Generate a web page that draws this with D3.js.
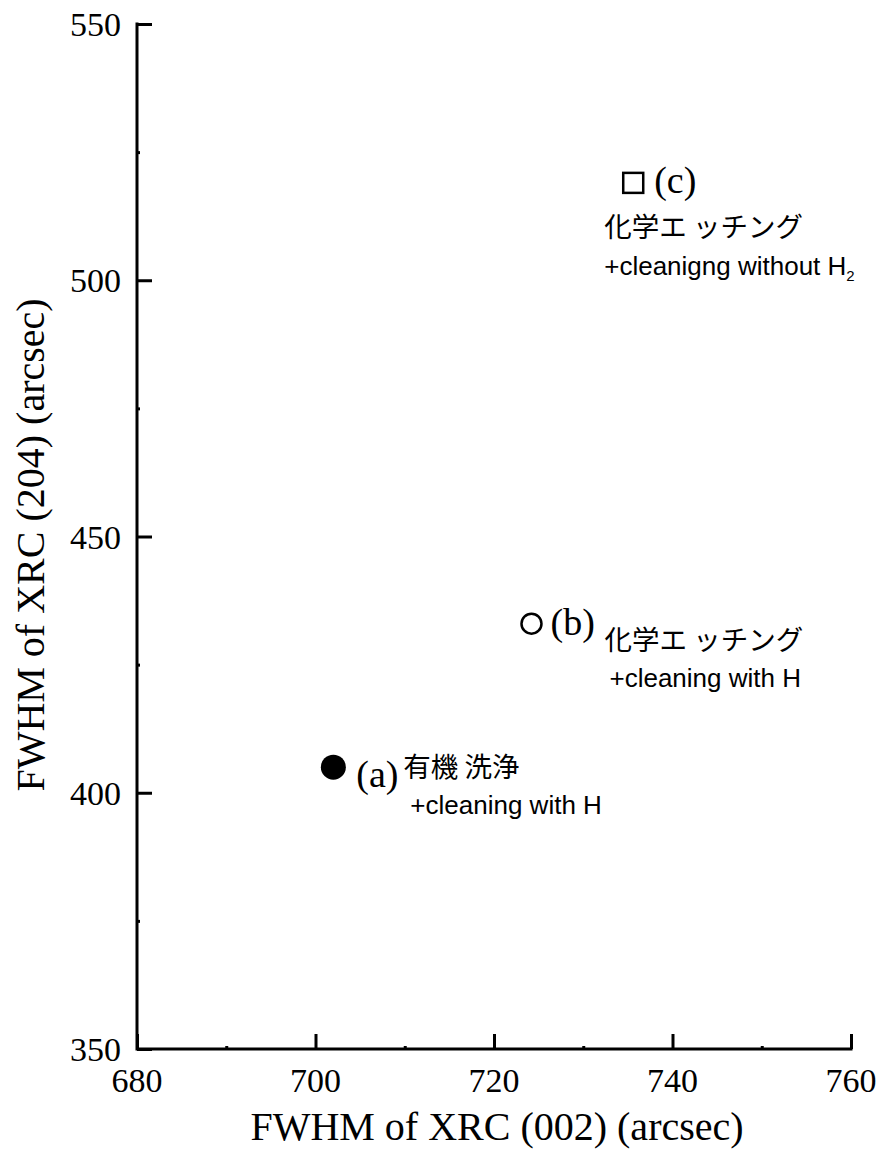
<!DOCTYPE html>
<html>
<head>
<meta charset="utf-8">
<script src="https://cdn.jsdelivr.net/npm/d3@7"></script>
<style>
  html, body { margin: 0; padding: 0; background: #fff; }
  svg { display: block; }
</style>
</head>
<body>
<script>
// Sample treatments and their XRC rocking-curve widths (arcsec)
const sampleIds = ["a", "b", "c"];
const fwhm002 = [702, 724.2, 735.6];
const fwhm204 = [405, 433, 519];
const markerShapes = ["filledCircle", "openCircle", "openSquare"];
const treatmentJa = ["有機 洗浄", "化学エ ッチング", "化学エ ッチング"];
const treatmentEn = ["+cleaning with H", "+cleaning with H", "+cleanigng without H"];

const xTicks = [680, 700, 720, 740, 760];
const yTicks = [350, 400, 450, 500, 550];
const xMinorTicks = [690, 710, 730, 750];
const yMinorTicks = [375, 425, 475, 525];

const SERIF = '"Liberation Serif", "Times New Roman", Times, serif';
const JA_FONT = '"Noto Sans CJK JP", "Noto Sans", sans-serif';
const LATIN_SANS = '"Liberation Sans", Arial, sans-serif';

const W = 883, H = 1167;
const plotLeft = 137, plotRight = 851, plotTop = 24, plotBottom = 1049;

const svg = d3.select("body").append("svg")
  .attr("width", W).attr("height", H)
  .style("font-family", SERIF);

const x = d3.scaleLinear().domain([680, 760]).range([plotLeft, plotRight]);
const y = d3.scaleLinear().domain([350, 550]).range([plotBottom, plotTop]);

// Axes: ticks point inward, labels drawn separately
const axisG = svg.append("g");
axisG.append("g")
  .attr("transform", `translate(0,${plotBottom})`)
  .call(d3.axisTop(x).tickValues(xTicks).tickSize(15).tickFormat(""))
  .call(g => g.select(".domain").remove());
axisG.append("g")
  .attr("transform", `translate(${plotLeft},0)`)
  .call(d3.axisRight(y).tickValues(yTicks).tickSize(15).tickFormat(""))
  .call(g => g.select(".domain").remove());
axisG.append("g")
  .attr("transform", `translate(0,${plotBottom})`)
  .call(d3.axisTop(x).tickValues(xMinorTicks).tickSize(3).tickFormat(""))
  .call(g => g.select(".domain").remove());
axisG.append("g")
  .attr("transform", `translate(${plotLeft},0)`)
  .call(d3.axisRight(y).tickValues(yMinorTicks).tickSize(3).tickFormat(""))
  .call(g => g.select(".domain").remove());
axisG.selectAll("line").attr("stroke", "#000").attr("stroke-width", 3);

// Axis lines (left and bottom only)
svg.append("path")
  .attr("d", `M${x(680)},${y(550)}V${y(350)}H${x(760)}`)
  .attr("fill", "none").attr("stroke", "#000").attr("stroke-width", 3)
  .attr("stroke-linecap", "square");

// Tick labels
svg.append("g").selectAll("text").data(xTicks).join("text")
  .style("font-family", SERIF).style("font-size", "34px")
  .attr("x", d => x(d)).attr("y", 1092)
  .attr("text-anchor", "middle")
  .text(d => String(d));
svg.append("g").selectAll("text").data(yTicks).join("text")
  .style("font-family", SERIF).style("font-size", "34px")
  .attr("x", 121).attr("y", d => y(d) + 12)
  .attr("text-anchor", "end")
  .text(d => String(d));

// Axis titles
svg.append("text")
  .style("font-family", SERIF).style("font-size", "40px")
  .attr("x", 497).attr("y", 1140).attr("text-anchor", "middle")
  .text("FWHM of XRC (002) (arcsec)");
svg.append("text")
  .style("font-family", SERIF).style("font-size", "40px")
  .attr("transform", `translate(44,545) rotate(-90)`)
  .attr("text-anchor", "middle")
  .text("FWHM of XRC (204) (arcsec)");

// Data markers
const pts = sampleIds.map((id, i) => ({
  id, xv: fwhm002[i], yv: fwhm204[i], shape: markerShapes[i],
  ja: treatmentJa[i], en: treatmentEn[i]
}));

const markG = svg.append("g");
pts.forEach(p => {
  const cx = x(p.xv), cy = y(p.yv);
  if (p.shape === "filledCircle") {
    markG.append("circle").attr("cx", cx).attr("cy", cy).attr("r", 12.5).attr("fill", "#000");
  } else if (p.shape === "openCircle") {
    markG.append("circle").attr("cx", cx).attr("cy", cy).attr("r", 10)
      .attr("fill", "none").attr("stroke", "#000").attr("stroke-width", 2.5);
  } else {
    markG.append("rect").attr("x", cx - 10).attr("y", cy - 10)
      .attr("width", 20).attr("height", 20)
      .attr("fill", "none").attr("stroke", "#000").attr("stroke-width", 2.5);
  }
});

// Annotation offsets (pixels from each marker centre)
const labelOffsets = [
  { id: [23, 20], ja: [70, 10], en: [77, 47] },
  { id: [19, 11], ja: [73, 26], en: [78, 63] },
  { id: [21, 10], ja: [-29, 54], en: [-29, 92] }
];

const ann = svg.append("g");
pts.forEach((p, i) => {
  const cx = x(p.xv), cy = y(p.yv), o = labelOffsets[i];
  ann.append("text")
    .style("font-family", SERIF).style("font-size", "38px")
    .attr("x", cx + o.id[0]).attr("y", cy + o.id[1])
    .text(`(${p.id})`);
  ann.append("text")
    .style("font-family", JA_FONT).style("font-size", "27.5px")
    .attr("x", cx + o.ja[0]).attr("y", cy + o.ja[1])
    .text(p.ja);
  const t = ann.append("text")
    .style("font-family", LATIN_SANS).style("font-size", "26px")
    .attr("x", cx + o.en[0]).attr("y", cy + o.en[1]);
  t.append("tspan").text(p.en);
  if (p.id === "c") {
    t.append("tspan").style("font-size", "15px").attr("dy", 6).text("2");
  }
});
</script>
</body>
</html>
